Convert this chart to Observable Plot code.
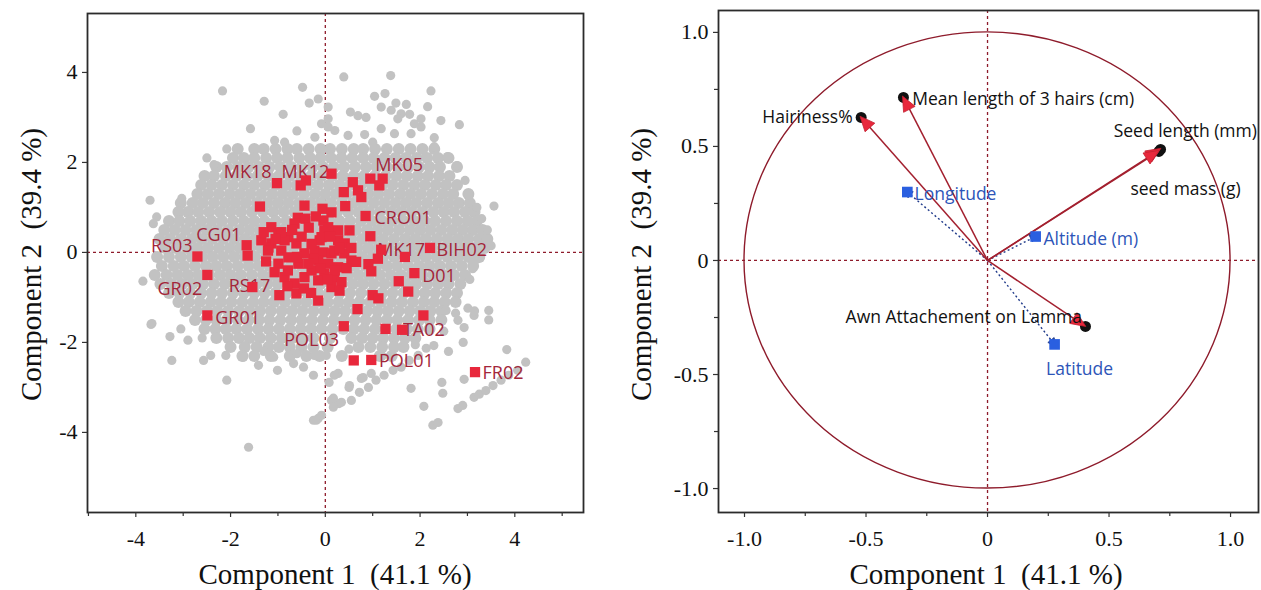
<!DOCTYPE html>
<html><head><meta charset="utf-8">
<script src="https://cdn.jsdelivr.net/npm/d3@7"></script>
<script src="https://cdn.jsdelivr.net/npm/@observablehq/plot@0.6"></script>
<style>
body{margin:0;background:#fff;}
#wrap{position:relative;width:1261px;height:590px;overflow:hidden;background:#fff;}
#left{position:absolute;left:0;top:0;}
#right{position:absolute;left:600px;top:0;}
.title{position:absolute;font-family:"Liberation Serif","Times New Roman",serif;font-size:29px;line-height:1;white-space:pre;color:#111;}
</style></head><body>
<div id="wrap">
<div id="left"></div><div id="right"></div>
<div class="title" id="t1x">Component 1  (41.1 %)</div>
<div class="title" id="t1y">Component 2  (39.4 %)</div>
<div class="title" id="t2x">Component 1  (41.1 %)</div>
<div class="title" id="t2y">Component 2  (39.4 %)</div>
</div>
<script>
// ---------- LEFT PANEL DATA (scores) ----------
// dense cloud of individuals, rows: [PC2, [PC1 values...]]
const grayRows = [
 [2.3, [-1.85,-1.5,-1.3,-1.05,-0.8,-0.6,-0.35,-0.1,0.1,0.35,0.6,0.8,1.05,1.3,1.55,1.8,2.05,2.3]],
 [2.1, [-1.95,-1.72,-1.5,-1.25,-1.02,-0.8,-0.55,-0.32,-0.1,0.12,0.34,0.57,0.8,1.02,1.25,1.48,1.7,1.93,2.15,2.38,2.6]],
 [1.9, [-2.3,-2.08,-1.85,-1.62,-1.4,-1.18,-0.95,-0.72,-0.5,-0.27,-0.05,0.18,0.4,0.63,0.86,1.08,1.3,1.53,1.75,1.98,2.2,2.42,2.78]],
 [1.7, [-2.55,-2.35,-2.1,-1.88,-1.66,-1.43,-1.2,-0.98,-0.75,-0.52,-0.3,-0.08,0.15,0.37,0.6,0.82,1.05,1.27,1.5,1.72,1.95,2.17,2.4,2.62]],
 [1.5, [-2.62,-2.4,-2.18,-1.95,-1.72,-1.5,-1.27,-1.05,-0.82,-0.6,-0.37,-0.15,0.08,0.3,0.52,0.75,0.98,1.2,1.42,1.65,1.88,2.1,2.33,2.55,2.78]],
 [1.3, [-2.7,-2.48,-2.25,-2.02,-1.8,-1.58,-1.35,-1.12,-0.9,-0.68,-0.45,-0.22,0.0,0.22,0.45,0.68,0.9,1.12,1.35,1.58,1.8,2.02,2.25,2.48,2.7,3.02]],
 [1.1, [-3.05,-2.8,-2.58,-2.35,-2.12,-1.9,-1.68,-1.45,-1.22,-1.0,-0.78,-0.55,-0.32,-0.1,0.12,0.35,0.58,0.8,1.02,1.25,1.48,1.7,1.92,2.15,2.38,2.6,2.82,3.05]],
 [0.9, [-3.1,-2.9,-2.68,-2.45,-2.22,-2.0,-1.78,-1.55,-1.32,-1.1,-0.88,-0.65,-0.42,-0.2,0.02,0.25,0.48,0.7,0.92,1.15,1.38,1.6,1.82,2.05,2.28,2.5,2.72,2.95,3.15]],
 [0.7, [-3.3,-3.08,-2.85,-2.62,-2.4,-2.18,-1.95,-1.72,-1.5,-1.28,-1.05,-0.82,-0.6,-0.38,-0.15,0.08,0.3,0.52,0.75,0.98,1.2,1.42,1.65,1.88,2.1,2.32,2.55,2.78,3.0,3.2]],
 [0.5, [-3.4,-3.18,-2.95,-2.72,-2.5,-2.28,-2.05,-1.82,-1.6,-1.38,-1.15,-0.92,-0.7,-0.48,-0.25,-0.02,0.2,0.42,0.65,0.88,1.1,1.32,1.55,1.78,2.0,2.22,2.45,2.68,2.9,3.12,3.32]],
 [0.3, [-3.5,-3.28,-3.05,-2.82,-2.6,-2.38,-2.15,-1.92,-1.7,-1.48,-1.25,-1.02,-0.8,-0.58,-0.35,-0.12,0.1,0.32,0.55,0.78,1.0,1.22,1.45,1.68,1.9,2.12,2.35,2.58,2.8,3.02,3.25,3.42]],
 [0.1, [-3.38,-3.15,-2.92,-2.7,-2.48,-2.25,-2.02,-1.8,-1.58,-1.35,-1.12,-0.9,-0.68,-0.45,-0.22,0.0,0.22,0.45,0.68,0.9,1.12,1.35,1.58,1.8,2.02,2.25,2.48,2.7,2.92,3.15,3.36]],
 [-0.1, [-3.55,-3.3,-3.05,-2.82,-2.6,-2.38,-2.15,-1.92,-1.7,-1.48,-1.25,-1.02,-0.8,-0.58,-0.35,-0.12,0.1,0.32,0.55,0.78,1.0,1.22,1.45,1.68,1.9,2.12,2.35,2.58,2.8,3.02,3.25]],
 [-0.3, [-3.45,-3.2,-2.98,-2.75,-2.52,-2.3,-2.08,-1.85,-1.62,-1.4,-1.18,-0.95,-0.72,-0.5,-0.28,-0.05,0.18,0.4,0.62,0.85,1.08,1.3,1.52,1.75,1.98,2.2,2.42,2.65,2.88,3.12]],
 [-0.5, [-3.6,-3.35,-3.12,-2.9,-2.68,-2.45,-2.22,-2.0,-1.78,-1.55,-1.32,-1.1,-0.88,-0.65,-0.42,-0.2,0.02,0.25,0.48,0.7,0.92,1.15,1.38,1.6,1.82,2.05,2.28,2.5,2.72,2.95]],
 [-0.7, [-3.48,-3.25,-3.02,-2.8,-2.58,-2.35,-2.12,-1.9,-1.68,-1.45,-1.22,-1.0,-0.78,-0.55,-0.32,-0.1,0.12,0.35,0.58,0.8,1.02,1.25,1.48,1.7,1.92,2.15,2.38,2.6,2.85]],
 [-0.9, [-3.3,-3.08,-2.85,-2.62,-2.4,-2.18,-1.95,-1.72,-1.5,-1.28,-1.05,-0.82,-0.6,-0.38,-0.15,0.08,0.3,0.52,0.75,0.98,1.2,1.42,1.65,1.88,2.1,2.32,2.55,2.78]],
 [-1.1, [-3.1,-2.88,-2.65,-2.42,-2.2,-1.98,-1.75,-1.52,-1.3,-1.08,-0.85,-0.62,-0.4,-0.18,0.05,0.28,0.5,0.72,0.95,1.18,1.4,1.62,1.85,2.08,2.3,2.52,2.75]],
 [-1.3, [-2.95,-2.72,-2.5,-2.28,-2.05,-1.82,-1.6,-1.38,-1.15,-0.92,-0.7,-0.48,-0.25,-0.02,0.2,0.42,0.65,0.88,1.1,1.32,1.55,1.78,2.0,2.22,2.45]],
 [-1.5, [-2.75,-2.52,-2.3,-2.08,-1.85,-1.62,-1.4,-1.18,-0.95,-0.72,-0.5,-0.28,-0.05,0.18,0.4,0.62,0.85,1.08,1.3,1.52,1.75,1.98,2.2,2.45]],
 [-1.7, [-2.55,-2.32,-2.1,-1.88,-1.65,-1.42,-1.2,-0.98,-0.75,-0.52,-0.3,-0.08,0.15,0.38,0.6,0.82,1.05,1.28,1.5,1.72,1.95,2.2]],
 [-1.9, [-2.3,-2.05,-1.82,-1.6,-1.38,-1.15,-0.92,-0.7,-0.48,-0.25,0.1,0.55,0.78,1.0,1.22,1.45,1.68,1.9]],
 [-2.1, [-2.0,-1.7,-1.45,-1.2,-0.98,-0.75,-0.5,-0.25,0.05,0.7,0.95,1.2,1.45,1.65]],
 [-2.3, [-1.75,-1.5,-1.15,-0.75,-0.4,-0.12,0.35,1.15,1.4]]
];
// scattered individuals around the cloud: [PC1, PC2]
const graySparse = [
 [-1.58,2.75],[0.06,2.79],[-1.07,2.49],[-0.86,2.45],[-0.22,2.56],[0.2,2.71],[0.48,2.6],[0.83,2.62],[1.18,2.75],[1.46,2.64],
 [1.81,2.64],[2.02,2.79],[2.83,2.84],[2.44,2.93],[-2.08,2.3],[-0.89,3.07],[0.53,3.12],[0.69,3.04],[0.86,3.0],[1.18,3.23],
 [1.39,3.16],[1.6,3.08],[1.78,3.07],[2.02,2.97],[0.06,2.97],[-0.08,2.86],[1.53,2.97],[1.88,2.86],[1.38,3.93],[0.39,3.9],
 [-0.48,3.67],[-2.17,3.59],[2.23,3.59],[-0.15,3.41],[-0.34,3.32],[-1.29,3.36],[1.04,3.47],[1.26,3.53],[1.49,3.32],[1.71,3.29],
 [2.16,3.24],[0.06,3.23],[-0.6,2.7],[1.0,2.45],[2.3,2.35],[2.58,2.13],[2.78,1.93],[2.3,2.55],[-2.5,2.1],[-2.35,1.95],
 [-3.7,1.16],[-3.03,1.2],[-3.56,0.79],[-3.63,0.64],[2.95,1.6],[3.04,1.27],[3.2,1.0],[3.56,1.03],[3.3,0.75],[3.42,0.5],
 [3.5,0.15],[3.11,-0.36],[3.2,-0.15],[3.05,-0.6],[-3.85,-0.64],[-3.68,-1.6],[-3.28,-1.87],[-3.05,-1.7],[-2.9,-1.95],[-2.6,-1.9],
 [-3.66,-1.58],[-3.24,-2.4],[-2.57,-2.4],[-2.42,-2.29],[-2.08,-2.84],[-2.1,-2.29],[-1.73,-2.33],[-1.41,-2.51],[-1.09,-2.33],[-1.01,-2.62],
 [-0.67,-2.47],[-0.46,-2.55],[-0.25,-2.73],[-0.23,-2.29],[0.02,-2.29],[0.08,-2.89],[0.27,-2.69],[0.5,-3.0],[0.76,-2.8],[0.97,-2.69],
 [0.13,-3.29],[0.29,-3.36],[-0.15,-3.69],[-0.25,-3.73],[-1.62,-4.33],[2.55,-1.29],[2.8,-1.51],[2.93,-1.67],[3.01,-1.24],[3.14,-1.4],
 [3.45,-1.29],[2.91,-2.0],[3.83,-2.16],[2.46,-2.89],[2.48,-3.13],[2.08,-3.42],[1.81,-3.02],[2.27,-3.84],[2.38,-3.78],[2.8,-3.47],
 [2.9,-3.4],[3.14,-3.22],[3.25,-3.15],[3.39,-3.07],[3.54,-2.96],[3.71,-2.84],[3.87,-2.73],[4.06,-2.62],[4.23,-2.44],[2.93,-2.82],
 [-0.19,-3.73],[0.17,-3.44],[0.34,-3.33],[0.55,-3.29],[0.72,-3.11],[0.91,-3.0],[1.07,-2.84],[1.24,-2.73],[1.43,-2.62],[1.6,-2.55],
 [1.77,-2.4],[1.96,-2.29],[2.13,-2.13],[2.29,-2.07],[0.51,-2.96],[0.19,-2.73],[0.8,-2.78],[0.17,-3.24],[-0.08,-3.62],[1.2,-2.3],
 [1.9,-2.05],[-1.3,-2.2],[-0.6,-2.25],[0.5,-2.15],[2.5,-1.75],[2.6,-2.2],[3.15,-1.3],[3.45,-1.5],[2.75,-1.35]
];
// populations (red squares): [PC1, PC2]
const popPoints = [
 [-2.70,-0.09],[-2.49,-0.50],[-2.49,-1.40],[-1.54,-0.77],[-1.66,0.16],[-1.64,-0.07],[-1.38,1.02],[-1.02,1.54],[-0.52,1.49],[-0.41,1.60],
 [0.13,1.75],[-0.44,1.04],[-0.58,0.77],[-0.42,0.75],[-0.06,0.97],[0.13,0.89],[0.39,1.34],[0.58,1.56],[0.69,1.38],[0.76,1.23],
 [0.95,1.64],[1.21,1.64],[1.14,1.49],[0.42,1.03],[0.85,0.81],[0.95,0.36],[2.21,0.10],[1.68,-0.10],[1.18,0.06],[1.11,-0.14],
 [0.91,-0.26],[0.97,-0.42],[1.88,-0.46],[1.55,-0.64],[1.75,-0.87],[1.0,-0.95],[1.12,-1.02],[0.68,-1.26],[0.39,-1.64],[2.07,-1.40],
 [1.27,-1.70],[1.62,-1.72],[0.60,-2.40],[0.97,-2.39],[3.16,-2.66],[-0.15,-1.07],[-0.97,-0.95],[-0.61,-0.91],
 [-1.14,0.56],[-0.99,0.42],[-0.78,0.34],[-0.61,0.2],[-1.14,0.2],[-1.2,0.11],[-0.93,0.04],[-0.78,-0.11],[-0.99,-0.25],[-1.07,-0.44],
 [-0.86,-0.55],[-0.65,-0.69],[-0.44,-0.55],[-0.29,-0.4],[-0.57,-0.25],[-0.04,0.71],[-0.02,0.49],[-0.12,0.27],[-0.23,0.04],[-0.04,0.0],
 [0.13,-0.02],[-0.15,-0.18],[0.06,-0.25],[0.27,-0.33],[-0.02,-0.47],[0.19,-0.55],[0.34,-0.66],[-0.15,-0.62],[0.13,-0.77],[0.4,-0.02],
 [0.55,-0.18],[0.27,0.27],[0.19,0.04],[-0.25,-0.14],[-0.44,-0.02],[0.27,0.49],[0.51,0.49],[0.41,0.2],[-0.08,0.34],[0.06,0.56],
 [-1.35,0.27],[-1.21,0.04],[-0.86,0.27],[-0.93,0.45],[-0.65,0.64],[-0.36,-0.25],[-0.29,0.19],[0.2,-0.4],[0.65,-0.21],[-0.79,-0.4],
 [-1.05,0.3],[-0.7,0.5],[-0.5,0.35],[-0.35,0.55],[-0.2,0.8],[0.1,0.35],[0.3,0.1],[0.45,-0.35],[-0.1,-0.35],[-0.45,-0.8],
 [-0.8,-0.75],[-1.25,-0.2],[-1.3,0.45],[0.05,-0.6],[0.3,-0.85],[-0.3,-0.9],[0.55,0.1],[-0.6,-0.1]
];
const popLabels = ["MK18","MK12","MK05","CRO01","CG01","RS03","MK17","BIH02","D01","GR02","RS17","GR01","TA02","POL03","POL01","FR02"];
const popLabelX = [-1.64,-0.42,1.56,1.64,-2.25,-3.24,1.6,2.88,2.4,-3.07,-1.6,-1.85,2.08,-0.29,1.71,3.75];
const popLabelY = [1.78,1.78,1.93,0.76,0.38,0.13,0.04,0.04,-0.53,-0.82,-0.76,-1.47,-1.73,-1.96,-2.42,-2.69];
const leftTicksMajor = [-4,-2,0,2,4];
const leftTicksMinorX = [-5,-3,-1,1,3,5];
const leftTicksY = [-4,-2,0,2,4];

// ---------- RIGHT PANEL DATA (loadings) ----------
const traitNames = ["Hairiness%","Mean length of 3 hairs (cm)","Seed length (mm)","seed mass (g)","Awn Attachement on Lamma"];
const traitPC1 = [-0.52,-0.346,0.712,0.705,0.403];
const traitPC2 = [0.627,0.715,0.487,0.478,-0.289];
const traitLabelX = [-0.555,-0.31,0.519,0.588,-0.584];
const traitLabelY = [0.627,0.706,0.566,0.311,-0.25];
const traitAnchor = ["end","start","start","start","start"];
const geoNames = ["Longitude","Altitude (m)","Latitude"];
const geoPC1 = [-0.33,0.198,0.276];
const geoPC2 = [0.30,0.105,-0.368];
const geoLabelX = [-0.30,0.23,0.379];
const geoLabelY = [0.289,0.092,-0.478];
const geoAnchor = ["start","start","middle"];
const rightTicksMajor = [-1,-0.5,0,0.5,1];
const rightTicksMinor = [-0.75,-0.25,0.25,0.75];

// ---------- build tables ----------
const grayDense = [];
for (const [y, xs] of grayRows) for (const x of xs) grayDense.push({x, y});
const grayOut = graySparse.map(([x, y]) => ({x, y}));
const pops = popPoints.map(([x, y]) => ({x, y}));
const popLab = popLabels.map((t, i) => ({t, x: popLabelX[i], y: popLabelY[i]}));
const traits = traitNames.map((t, i) => ({t, x: traitPC1[i], y: traitPC2[i], lx: traitLabelX[i], ly: traitLabelY[i], a: traitAnchor[i]}));
const geos = geoNames.map((t, i) => ({t, x: geoPC1[i], y: geoPC2[i], lx: geoLabelX[i], ly: geoLabelY[i], a: geoAnchor[i]}));

const DARKRED = "#8e1b2b";
const SERIF = "'Liberation Serif','Times New Roman',serif";
const SANS = "'Open Sans','Noto Sans',sans-serif";

function axes(major, minorX, majorY, minorY, fmt) {
  const common = {stroke: "#333", strokeWidth: 1.2, fontSize: 22, fontFamily: SERIF, fill: "#111", label: null};
  const out = [
    Plot.axisX(major, {...common, anchor: "bottom", tickSize: 5, tickPadding: 13, tickFormat: fmt}),
    Plot.axisY(majorY, {...common, anchor: "left", tickSize: 5, tickPadding: 5, tickFormat: fmt})
  ];
  if (minorX) out.push(Plot.axisX(minorX, {...common, anchor: "bottom", tickSize: 4, tickFormat: () => ""}));
  if (minorY) out.push(Plot.axisY(minorY, {...common, anchor: "left", tickSize: 4, tickFormat: () => ""}));
  return out;
}

// ---------- LEFT PLOT ----------
const leftPlot = Plot.plot({
  width: 600, height: 590,
  marginLeft: 87, marginRight: 17, marginTop: 13, marginBottom: 78,
  x: {domain: [-5.02, 5.45], label: null},
  y: {domain: [-5.78, 5.31], label: null},
  style: {background: "white", fontFamily: SERIF},
  marks: [
    Plot.ruleX([0], {stroke: DARKRED, strokeDasharray: "3,3", strokeWidth: 1.3}),
    Plot.ruleY([0], {stroke: DARKRED, strokeDasharray: "3,3", strokeWidth: 1.3}),
    Plot.dot(grayDense, {x: "x", y: "y", r: 6, fill: "#c2c2c2"}),
    Plot.dot(grayOut, {x: "x", y: "y", r: 4.6, fill: "#c2c2c2"}),
    Plot.text(popLab, {x: "x", y: "y", text: "t", fontFamily: SANS, fontSize: 18, fill: "#a3263a"}),
    Plot.dot(pops, {x: "x", y: "y", symbol: "square", r: 5.8, fill: "#e8283c"}),
    Plot.frame({stroke: "#2b2b2b", strokeWidth: 1.8}),
    ...axes(leftTicksMajor, leftTicksMinorX, leftTicksY, null, d => String(d))
  ]
});
document.getElementById("left").appendChild(leftPlot);

// ---------- RIGHT PLOT ----------
const fmtR = d => d === 0 ? "0" : d.toFixed(1);
function ellipseRender(index, scales) {
  const cx = scales.x(0), cy = scales.y(0);
  const rx = scales.x(1) - cx, ry = cy - scales.y(1);
  const g = d3.create("svg:g");
  g.append("ellipse").attr("cx", cx).attr("cy", cy).attr("rx", rx).attr("ry", ry)
    .attr("fill", "none").attr("stroke", DARKRED).attr("stroke-width", 1.4);
  return g.node();
}
function headRender(fill, stroke, len, half, ext) {
  return function(index, scales, values) {
    const x0 = scales.x(0), y0 = scales.y(0);
    const g = d3.create("svg:g");
    for (const i of index) {
      const px = values.x[i], py = values.y[i];
      const dx = px - x0, dy = py - y0, L = Math.hypot(dx, dy);
      const ux = dx / L, uy = dy / L, nx = -uy, ny = ux;
      const tx = px + ux * ext, ty = py + uy * ext;
      const bx = tx - ux * len, by = ty - uy * len;
      g.append("path")
        .attr("d", `M${tx},${ty}L${bx + nx * half},${by + ny * half}L${bx - nx * half},${by - ny * half}Z`)
        .attr("fill", fill).attr("stroke", stroke).attr("stroke-width", 0.8);
    }
    return g.node();
  };
}
const origin = [{x: 0, y: 0}];
const labelStyle = {x: "lx", y: "ly", text: "t", fontFamily: SANS, fontSize: 17.5};
const rightPlot = Plot.plot({
  width: 661, height: 590,
  marginLeft: 118, marginRight: 3, marginTop: 10, marginBottom: 78,
  x: {domain: [-1.107, 1.115], label: null},
  y: {domain: [-1.105, 1.096], label: null},
  style: {background: "white", fontFamily: SERIF},
  marks: [
    Plot.dot(origin, {x: "x", y: "y", render: ellipseRender}),
    Plot.ruleX([0], {stroke: DARKRED, strokeDasharray: "3,3", strokeWidth: 1.3}),
    Plot.ruleY([0], {stroke: DARKRED, strokeDasharray: "3,3", strokeWidth: 1.3}),
    Plot.link(geos, {x1: 0, y1: 0, x2: "x", y2: "y", stroke: "#1f3a8a", strokeWidth: 1.4, strokeDasharray: "2,2.5"}),
    Plot.link(traits, {x1: 0, y1: 0, x2: "x", y2: "y", stroke: "#a3202f", strokeWidth: 1.5}),
    Plot.dot(traits, {x: "x", y: "y", r: 5.5, fill: "#111"}),
    Plot.dot(traits, {x: "x", y: "y", render: headRender("#e8283c", "#c21f30", 15, 6.5, 1)}),
    Plot.dot(geos, {x: "x", y: "y", render: headRender("#1f3a8a", "#1f3a8a", 9, 4, 4)}),
    Plot.dot(geos, {x: "x", y: "y", symbol: "square", r: 6, fill: "#2a5fe0"}),
    Plot.text(traits, {...labelStyle, textAnchor: "end", fill: "#111", filter: d => d.a === "end"}),
    Plot.text(traits, {...labelStyle, textAnchor: "start", fill: "#111", clip: true, filter: d => d.a === "start"}),
    Plot.text(geos, {...labelStyle, textAnchor: "start", fill: "#2d55b8", filter: d => d.a === "start"}),
    Plot.text(geos, {...labelStyle, textAnchor: "middle", fill: "#2d55b8", filter: d => d.a === "middle"}),
    Plot.frame({stroke: "#2b2b2b", strokeWidth: 1.8}),
    ...axes(rightTicksMajor, rightTicksMinor, rightTicksMajor, rightTicksMinor, fmtR)
  ]
});
document.getElementById("right").appendChild(rightPlot);

// ---------- titles ----------
function placeTitle(id, cx, cy, rotate) {
  const el = document.getElementById(id);
  const w = el.offsetWidth, h = el.offsetHeight;
  el.style.left = (cx - w / 2) + "px";
  el.style.top = (cy - h / 2) + "px";
  if (rotate) el.style.transform = "rotate(-90deg)";
}
placeTitle("t1x", 335, 574, false);
placeTitle("t1y", 31, 264, true);
placeTitle("t2x", 986, 574, false);
placeTitle("t2y", 641, 264, true);
</script>
</body></html>
